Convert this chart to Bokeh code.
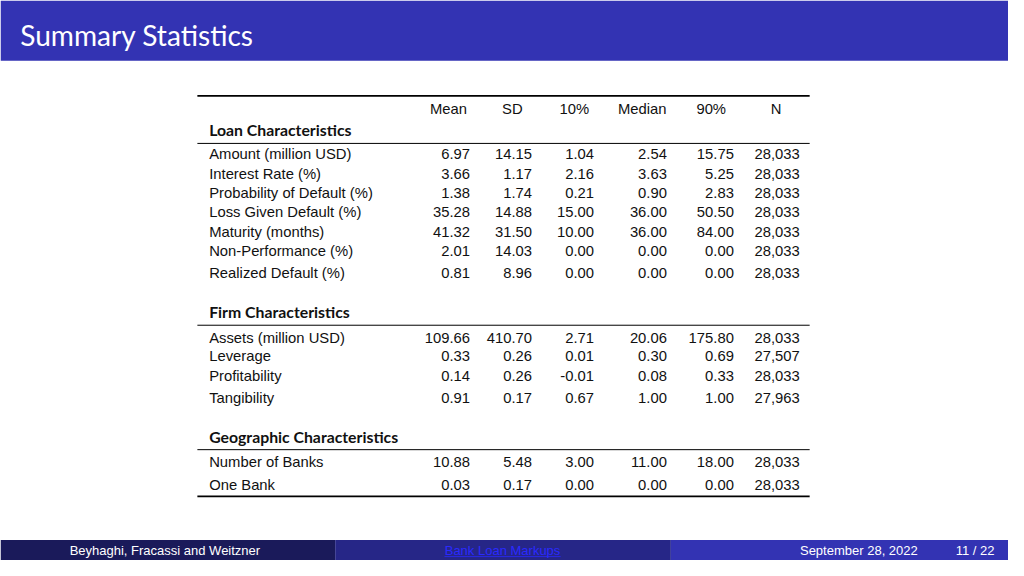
from bokeh.plotting import figure
from bokeh.models import Range1d, ColumnDataSource
from bokeh.core.properties import value
from bokeh.embed import file_html
from bokeh.resources import INLINE

# ---------------- data ----------------
title = "Summary Statistics"
columns = ["Mean", "SD", "10%", "Median", "90%", "N"]

sections = ["Loan Characteristics", "Firm Characteristics", "Geographic Characteristics"]

loan_labels = ["Amount (million USD)", "Interest Rate (%)", "Probability of Default (%)",
               "Loss Given Default (%)", "Maturity  (months)", "Non-Performance (%)",
               "Realized Default (%)"]
loan_mean = [6.97, 3.66, 1.38, 35.28, 41.32, 2.01, 0.81]
loan_sd = [14.15, 1.17, 1.74, 14.88, 31.50, 14.03, 8.96]
loan_p10 = [1.04, 2.16, 0.21, 15.00, 10.00, 0.00, 0.00]
loan_median = [2.54, 3.63, 0.90, 36.00, 36.00, 0.00, 0.00]
loan_p90 = [15.75, 5.25, 2.83, 50.50, 84.00, 0.00, 0.00]
loan_n = [28033, 28033, 28033, 28033, 28033, 28033, 28033]

firm_labels = ["Assets (million USD)", "Leverage", "Profitability", "Tangibility"]
firm_mean = [109.66, 0.33, 0.14, 0.91]
firm_sd = [410.70, 0.26, 0.26, 0.17]
firm_p10 = [2.71, 0.01, -0.01, 0.67]
firm_median = [20.06, 0.30, 0.08, 1.00]
firm_p90 = [175.80, 0.69, 0.33, 1.00]
firm_n = [28033, 27507, 28033, 27963]

geo_labels = ["Number of Banks", "One Bank"]
geo_mean = [10.88, 0.03]
geo_sd = [5.48, 0.17]
geo_p10 = [3.00, 0.00]
geo_median = [11.00, 0.00]
geo_p90 = [18.00, 0.00]
geo_n = [28033, 28033]

footer_author = "Beyhaghi, Fracassi and Weitzner"
footer_title = "Bank Loan Markups"
footer_date = "September 28, 2022"
footer_page = "11 / 22"

# ---------------- layout ----------------
W, H = 1024, 576
PW, PH = 1008, 560
S = PW / W

BLUE = "#3333b3"
FOOT_L = "#1a1a5a"
FOOT_M = "#262687"
FOOT_R = "#3333b3"

p = figure(width=PW, height=PH, x_range=Range1d(0, W), y_range=Range1d(H, 0),
           output_backend="svg", toolbar_location=None, min_border=0)
p.axis.visible = False
p.grid.visible = False
p.outline_line_color = None
p.background_fill_color = "white"
p.border_fill_color = "white"

# title bar
p.quad(left=[0], right=[W], top=[0], bottom=[62], fill_color=BLUE, line_color=None)
p.text(x=[20], y=[35], text=[title], text_color="white", text_font=value("Lato"),
       text_font_size=f"{28.5*S:.1f}px", text_baseline="middle", text_align="left")

# footer
p.quad(left=[0, 340, 681], right=[340, 681, W], top=[555]*3, bottom=[576]*3,
       fill_color=[FOOT_L, FOOT_M, FOOT_R], line_color=None)
fs = f"{13.2*S:.1f}px"
FY = 565.5
p.text(x=[167], y=[FY], text=[footer_author], text_color="white",
       text_font=value("Liberation Sans"), text_font_size=fs, text_baseline="middle", text_align="center")
p.text(x=[510], y=[FY], text=[footer_title], text_color="#2a2aff",
       text_font=value("Liberation Sans"), text_font_size=fs, text_baseline="middle", text_align="center")
p.segment(x0=[451], x1=[569], y0=[572], y1=[572], line_color="#2a2aff", line_width=0.8)
p.text(x=[872], y=[FY], text=[footer_date], text_color="white",
       text_font=value("Liberation Sans"), text_font_size=fs, text_baseline="middle", text_align="center")
p.text(x=[990], y=[FY], text=[footer_page], text_color="white",
       text_font=value("Liberation Sans"), text_font_size=fs, text_baseline="middle", text_align="center")

# table
TL, TR = 200, 822
LABEL_X = 212
col_center = [455, 520, 583, 652, 722, 788]
col_right = [477, 540, 603, 677, 745, 812]
tfs = f"{15*S:.1f}px"
TFONT = value("Liberation Sans")

# rules
p.segment(x0=[TL], x1=[TR], y0=[98], y1=[98], line_color="black", line_width=1.8)
p.segment(x0=[TL], x1=[TR], y0=[510], y1=[510], line_color="black", line_width=1.8)
p.segment(x0=[TL]*3, x1=[TR]*3, y0=[147, 334, 462], y1=[147, 334, 462], line_color="black", line_width=1.0)

# header
p.text(x=col_center, y=[112]*6, text=columns, text_font=TFONT, text_font_size=tfs,
       text_baseline="middle", text_align="center", text_color="#111111")

# section headers
p.text(x=[LABEL_X]*3, y=[133, 320, 448], text=sections, text_font=value("Lato"),
       text_font_style="bold", text_font_size=f"{16*S:.1f}px", text_baseline="middle",
       text_align="left", text_color="#111111")

row_y = {
    "loan": [158, 178, 198, 218, 238, 258, 280],
    "firm": [347, 366, 386, 409],
    "geo": [475, 498],
}

def draw_block(labels, cols, ys):
    p.text(x=[LABEL_X]*len(labels), y=ys, text=labels, text_font=TFONT, text_font_size=tfs,
           text_baseline="middle", text_align="left", text_color="#111111")
    for j, vals in enumerate(cols):
        if j == 5:
            txt = [f"{int(v):,}" for v in vals]
        else:
            txt = [f"{v:.2f}" for v in vals]
        src = ColumnDataSource(dict(x=[col_right[j]]*len(vals), y=ys, t=txt))
        p.text(x="x", y="y", text="t", source=src, text_font=TFONT, text_font_size=tfs,
               text_baseline="middle", text_align="right", text_color="#111111")

draw_block(loan_labels, [loan_mean, loan_sd, loan_p10, loan_median, loan_p90, loan_n], row_y["loan"])
draw_block(firm_labels, [firm_mean, firm_sd, firm_p10, firm_median, firm_p90, firm_n], row_y["firm"])
draw_block(geo_labels, [geo_mean, geo_sd, geo_p10, geo_median, geo_p90, geo_n], row_y["geo"])

open("out.html", "w").write(file_html(p, INLINE))
